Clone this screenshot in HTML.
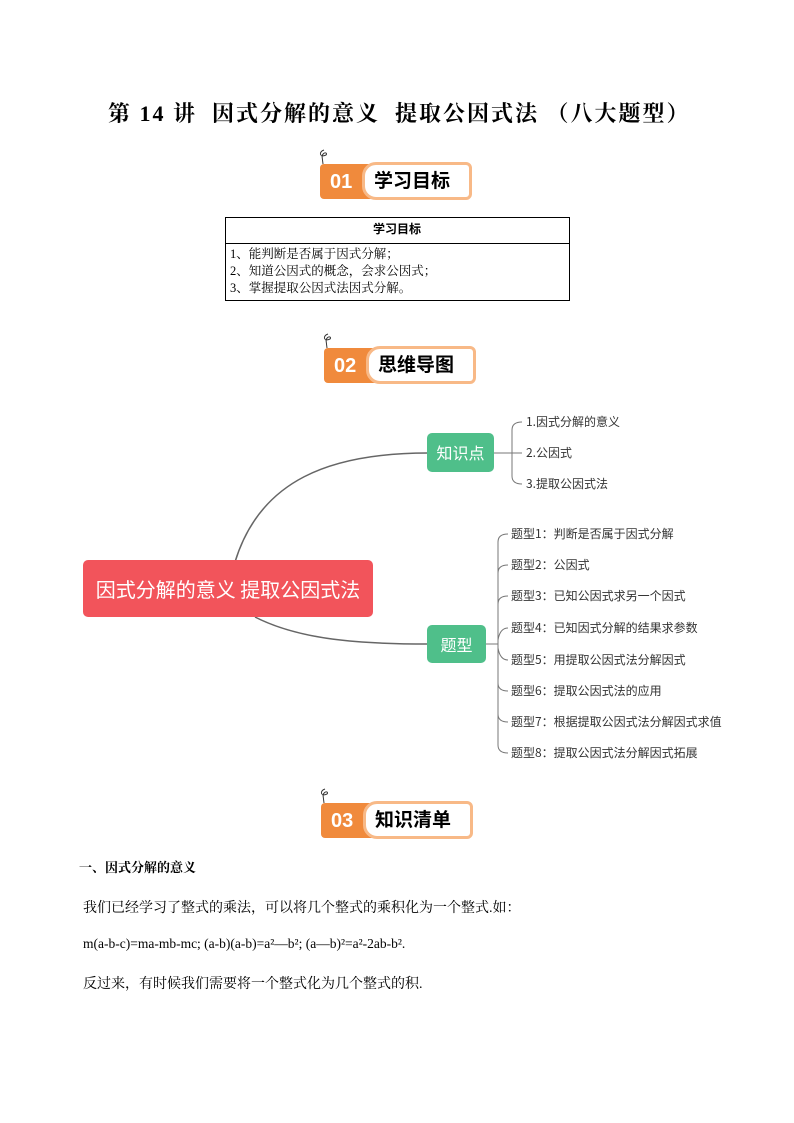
<!DOCTYPE html>
<html><head><meta charset="utf-8"><style>
body{margin:0;background:#fff}
#p{position:relative;width:794px;height:1123px;overflow:hidden;font-family:"Liberation Sans","Noto Sans CJK SC",sans-serif;color:#000}
.a{position:absolute;white-space:nowrap}
.badge{position:absolute;width:152px;height:40px}
.badge .o{position:absolute;left:0;top:4px;width:60px;height:35px;background:#f08a3c;border-radius:4px}
.badge .n{position:absolute;left:10px;top:11px;color:#fff;font-weight:bold;font-size:20px;font-family:"Liberation Sans",sans-serif}
.badge .w{position:absolute;left:42px;top:2px;width:104px;height:32px;background:#fff;border:3px solid #f8b987;border-radius:14px 6px 6px 14px}
.badge .t{position:absolute;left:54px;top:6px;font-weight:bold;font-size:19px;font-family:"Noto Sans CJK SC",sans-serif}
.g{position:absolute;background:#4fbf8a;color:#fff;border-radius:5px;font-size:16px;text-align:center;font-family:"Noto Sans CJK SC",sans-serif}
.s{font-size:12px;color:#333;font-family:"Noto Sans CJK SC",sans-serif}
.b{font-size:14px;font-family:"Liberation Serif","Noto Serif CJK SC",serif}
</style></head><body><div id="p">
<div class="a" style="left:108px;top:97px;font-size:22px;letter-spacing:2px;font-weight:bold;font-family:'Liberation Serif','Noto Serif CJK SC',serif">第 14 讲&nbsp; 因式分解的意义&nbsp; 提取公因式法 （八大题型）</div>

<div class="badge" style="left:320px;top:160px"><div class="o"></div><div class="w"></div><div class="n">01</div><div class="t">学习目标</div></div>
<svg class="a" style="left:314px;top:148px" width="20" height="20"><path d="M10 2 C4 4 6 10 12 7 C14 5 10 3 8 8 L9 16" fill="none" stroke="#333" stroke-width="1"/></svg>

<div class="a" style="left:225px;top:217px;width:343px;height:82px;border:1px solid #000"></div>
<div class="a" style="left:225px;top:243px;width:344px;height:1px;background:#000"></div>
<div class="a" style="left:225px;width:344px;text-align:center;top:220px;font-size:12px;font-weight:bold;font-family:'Noto Sans CJK SC',sans-serif">学习目标</div>
<div class="a" style="left:230px;top:246px;font-size:12.5px;line-height:17px;font-family:'Liberation Serif','Noto Serif CJK SC',serif">1、能判断是否属于因式分解；<br>2、知道公因式的概念，会求公因式；<br>3、掌握提取公因式法因式分解。</div>

<div class="badge" style="left:324px;top:344px"><div class="o"></div><div class="w"></div><div class="n">02</div><div class="t">思维导图</div></div>
<svg class="a" style="left:318px;top:332px" width="20" height="20"><path d="M10 2 C4 4 6 10 12 7 C14 5 10 3 8 8 L9 16" fill="none" stroke="#333" stroke-width="1"/></svg>

<svg class="a" style="left:0;top:0" width="794" height="1123">
<g fill="none" stroke="#666" stroke-width="1.5">
<path d="M235 562 C260 480 330 453 428 453"/>
<path d="M255 617 C300 640 360 644 428 644"/>
</g>
<g fill="none" stroke="#777" stroke-width="1">
<path d="M494 453 H512"/>
<path d="M512 453 V430 Q512 422 522 422"/><path d="M512 453 H522"/><path d="M512 453 V476 Q512 484 522 484"/>
<path d="M486 644 H498"/>
<path d="M498 644 V542 Q498 534 508 534"/>
<path d="M498 644 V573 Q498 565 508 565"/>
<path d="M498 644 V604 Q498 596 508 596"/>
<path d="M498 640 Q500 628 508 628"/>
<path d="M498 648 Q500 660 508 660"/>
<path d="M498 644 V683 Q498 691 508 691"/>
<path d="M498 644 V714 Q498 722 508 722"/>
<path d="M498 644 V745 Q498 753 508 753"/>
</g></svg>

<div class="a" style="left:83px;top:560px;width:290px;height:57px;background:#f2545b;border-radius:5px;color:#fff;font-size:20px;line-height:57px;text-align:center;font-family:'Noto Sans CJK SC',sans-serif">因式分解的意义 提取公因式法</div>
<div class="g" style="left:427px;top:433px;width:67px;height:39px;line-height:39px">知识点</div>
<div class="g" style="left:427px;top:625px;width:59px;height:38px;line-height:38px">题型</div>

<div class="a s" style="left:526px;top:413px">1.因式分解的意义</div>
<div class="a s" style="left:526px;top:444px">2.公因式</div>
<div class="a s" style="left:526px;top:475px">3.提取公因式法</div>
<div class="a s" style="left:511px;top:525px">题型1：判断是否属于因式分解</div>
<div class="a s" style="left:511px;top:556px">题型2：公因式</div>
<div class="a s" style="left:511px;top:587px">题型3：已知公因式求另一个因式</div>
<div class="a s" style="left:511px;top:619px">题型4：已知因式分解的结果求参数</div>
<div class="a s" style="left:511px;top:651px">题型5：用提取公因式法分解因式</div>
<div class="a s" style="left:511px;top:682px">题型6：提取公因式法的应用</div>
<div class="a s" style="left:511px;top:713px">题型7：根据提取公因式法分解因式求值</div>
<div class="a s" style="left:511px;top:744px">题型8：提取公因式法分解因式拓展</div>

<div class="badge" style="left:321px;top:799px"><div class="o"></div><div class="w"></div><div class="n">03</div><div class="t">知识清单</div></div>
<svg class="a" style="left:315px;top:787px" width="20" height="20"><path d="M10 2 C4 4 6 10 12 7 C14 5 10 3 8 8 L9 16" fill="none" stroke="#333" stroke-width="1"/></svg>

<div class="a" style="left:79px;top:857px;font-size:13px;font-weight:bold;font-family:'Liberation Serif','Noto Serif CJK SC',serif">一、因式分解的意义</div>
<div class="a b" style="left:83px;top:897px">我们已经学习了整式的乘法，可以将几个整式的乘积化为一个整式.如：</div>
<div class="a" style="left:83px;top:936px;font-size:13.5px;font-family:'Liberation Serif',serif">m(a-b-c)=ma-mb-mc; (a-b)(a-b)=a²—b²; (a—b)²=a²-2ab-b².</div>
<div class="a b" style="left:83px;top:973px">反过来，有时候我们需要将一个整式化为几个整式的积.</div>
</div></body></html>
